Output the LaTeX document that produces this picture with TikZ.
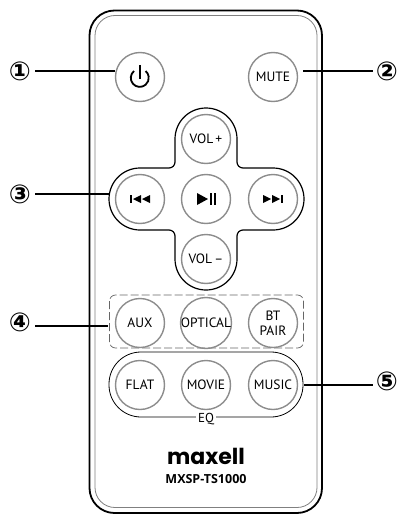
\documentclass[tikz,border=0pt]{standalone}
\usepackage{fontspec}
\setmainfont{PT Sans}
\newfontfamily\numfont{DejaVu Sans Bold}
\newfontfamily\logofont{Poppins}[BoldFont={Poppins Bold}]
\newfontfamily\modelfont{Open Sans}
\tikzset{
  btn/.style={circle,draw=black!45,line width=1.4pt,minimum size=49pt,inner sep=0pt,align=center,
    font=\fontsize{13.5}{14.5}\selectfont},
  num/.style={font=\numfont\fontsize{26}{26}\selectfont,inner sep=0pt},
  lead/.style={line width=1.2pt},
}
\begin{document}
\begin{tikzpicture}[x=1pt,y=-1pt]
\useasboundingbox (0,0) rectangle (399,519);
% body of the remote
\draw[line width=1.8pt,rounded corners=25pt] (89.5,10.5) rectangle (322,513);
\draw[black!50,line width=0.8pt,rounded corners=20pt] (95,15.5) rectangle (317,507.5);
% cross round the volume keys
\draw[line width=1.2pt] (175,139) arc[start angle=180,end angle=0,radius=31pt]
  -- (237,162) arc[start angle=180,end angle=270,radius=6pt]
  -- (273,168) arc[start angle=90,end angle=-90,radius=31pt]
  -- (243,230) arc[start angle=90,end angle=180,radius=6pt]
  -- (237,259) arc[start angle=0,end angle=-180,radius=31pt]
  -- (175,236) arc[start angle=0,end angle=90,radius=6pt]
  -- (140,230) arc[start angle=-90,end angle=-270,radius=31pt]
  -- (169,168) arc[start angle=-90,end angle=0,radius=6pt]
  -- cycle;
% groups
\draw[black!60,line width=0.7pt,dash pattern=on 8pt off 3pt,rounded corners=6pt] (109.5,295) rectangle (303.5,348);
\draw[line width=0.8pt,rounded corners=32pt] (109,352) rectangle (303,417);
% keys
\node[btn] (power) at (140,77) {};
\node[btn] (mute) at (273,77) {MUTE};
\node[btn] (volup) at (206,139) {VOL\,+};
\node[btn] (prev) at (140,199) {};
\node[btn] (play) at (206,199) {};
\node[btn] (next) at (273,199) {};
\node[btn] (voldown) at (206,259) {VOL\,--};
\node[btn] (aux) at (140,323) {AUX};
\node[btn] (optical) at (206,323) {OPTICAL};
\node[btn] (pair) at (273,323) {BT\\PAIR};
\node[btn] (flat) at (140,385) {FLAT};
\node[btn] (movie) at (206,385) {MOVIE};
\node[btn] (music) at (273,385) {MUSIC};
\node[fill=white,inner sep=2pt,font=\fontsize{13}{14}\selectfont] (eq) at (206,419) {EQ};
% icons
\draw[line width=1.8pt] (134,71) arc[start angle=130,end angle=410,radius=9pt];
\draw[line width=1.8pt] (140,65) -- (140,79);
\fill (130,195) rectangle (132,203);
\fill (141,195) -- (141,203) -- (133,199) -- cycle;
\fill (150,195) -- (150,203) -- (142,199) -- cycle;
\fill (197,193) -- (197,205) -- (208,199) -- cycle;
\fill (210,193) rectangle (212,205);
\fill (213.5,193) rectangle (215.5,205);
\fill (263,195) -- (263,203) -- (271,199) -- cycle;
\fill (272,195) -- (272,203) -- (280,199) -- cycle;
\fill (281,195) rectangle (283,203);
% logo
\node[font=\logofont\bfseries\fontsize{22}{22}\selectfont,inner sep=0pt] (logo) at (206,456) {maxell};
\node[font=\modelfont\bfseries\fontsize{12.5}{14}\selectfont,inner sep=0pt] (model) at (206,479) {MXSP-TS1000};
% numbers and their lines
\node[num] (numa) at (20,71) {①};
\node[num] (numb) at (387,71) {②};
\node[num] (numc) at (20,194) {③};
\node[num] (numd) at (20,322) {④};
\node[num] (nume) at (387,381) {⑤};
\coordinate (enda) at (115,71);
\coordinate (endb) at (303,71);
\coordinate (endc) at (110,194);
\coordinate (endd) at (108,326);
\coordinate (ende) at (304,385);
\draw[lead] (35,71) -- (enda);
\draw[lead] (endb) -- (373,71);
\draw[lead] (35,194) -- (endc);
\draw[lead] (35,326) -- (endd);
\draw[lead] (ende) -- (373,385);
\end{tikzpicture}
\end{document}
